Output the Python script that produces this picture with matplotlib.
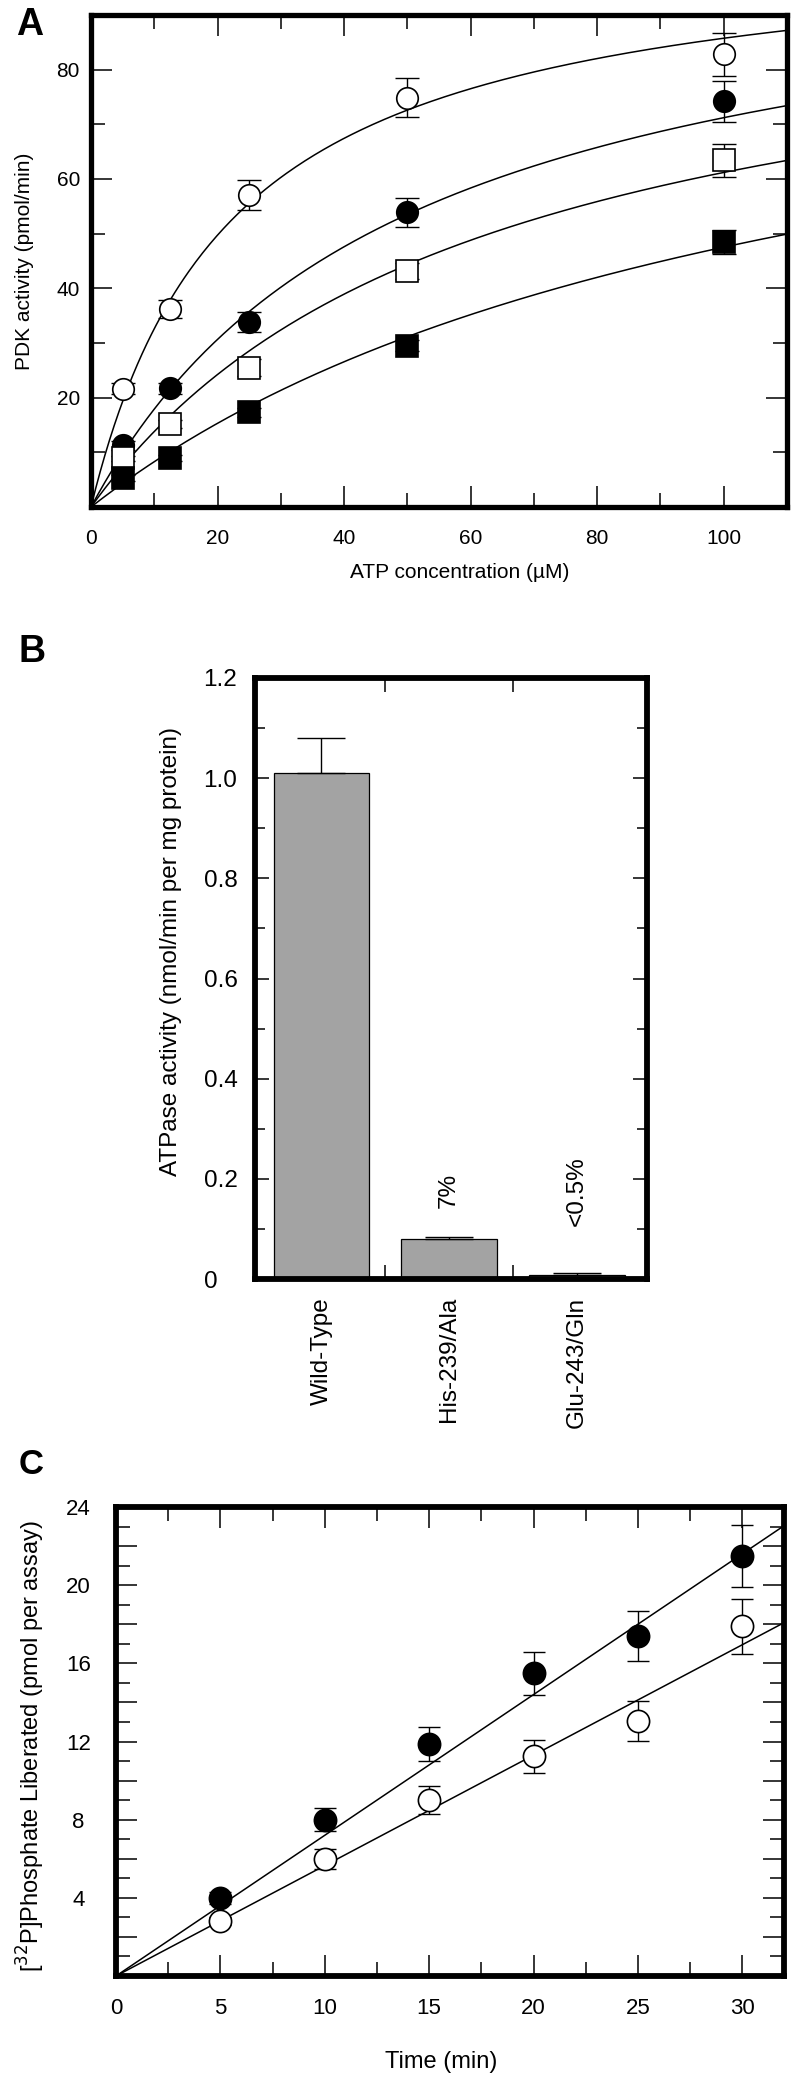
import numpy as np
import matplotlib
matplotlib.use('Agg')
import matplotlib.pyplot as plt
from matplotlib.ticker import MultipleLocator, FuncFormatter, FixedLocator
import matplotlib.transforms as mtransforms

plt.rcParams['font.family'] = ['Liberation Sans', 'DejaVu Sans']

# ---------------- Panel A data ----------------
atp_conc = [5, 12.5, 25, 50, 100]
open_circle = [21.6, 36.2, 57.1, 74.9, 82.8]
open_circle_err = [1.0, 1.7, 2.8, 3.6, 3.9]
filled_circle = [11.3, 21.7, 33.8, 53.9, 74.2]
filled_circle_err = [0.8, 1.0, 1.8, 2.6, 3.7]
open_square = [8.9, 15.2, 25.5, 43.2, 63.4]
open_square_err = [0.5, 0.8, 1.5, 1.5, 3.0]
filled_square = [5.3, 9.0, 17.3, 29.5, 48.4]
filled_square_err = [0.5, 0.6, 0.8, 1.0, 2.2]
# Michaelis-Menten fit parameters (Vmax, Km)
mm_vmax = [104.7, 106.4, 98.9, 100.3]
mm_km = [22.1, 49.4, 61.6, 111.0]

# ---------------- Panel B data ----------------
mutants = ['Wild-Type', 'His-239/Ala', 'Glu-243/Gln']
atpase = [1.01, 0.08, 0.007]
atpase_err = [0.07, 0.004, 0.004]
pct_labels = ['', '7%', '<0.5%']

# ---------------- Panel C data ----------------
time_min = [5, 10, 15, 20, 25, 30]
phos_filled = [4.0, 8.0, 11.86, 15.48, 17.4, 21.5]
phos_filled_err = [0.3, 0.6, 0.86, 1.1, 1.27, 1.6]
phos_open = [2.8, 6.0, 9.0, 11.24, 13.05, 17.9]
phos_open_err = [0.2, 0.5, 0.7, 0.86, 1.0, 1.4]
line_slopes = [0.72, 0.565]

W, H = 800, 2077
fig = plt.figure(figsize=(W / 100, H / 100), dpi=100)


def add_axes_px(l, t, r, b):
    return fig.add_axes([l / W, 1 - b / H, (r - l) / W, (b - t) / H])


def style(ax, lw=3.8):
    for s in ax.spines.values():
        s.set_linewidth(lw)
    ax.tick_params(which='both', direction='in', top=True, right=True,
                   width=1.1, color='black')


# ================= Panel A =================
axA = add_axes_px(91, 15, 787, 507)
style(axA)
axA.set_xlim(0, 110)
axA.set_ylim(0, 90)
axA.xaxis.set_major_locator(MultipleLocator(20))
axA.xaxis.set_minor_locator(MultipleLocator(10))
axA.yaxis.set_major_locator(MultipleLocator(20))
axA.yaxis.set_minor_locator(MultipleLocator(10))
axA.yaxis.set_major_formatter(FuncFormatter(lambda v, p: '' if v == 0 else '%d' % v))
axA.tick_params(which='major', length=15)
axA.tick_params(which='minor', length=10)
axA.tick_params(axis='y', labelsize=15, pad=8)
axA.tick_params(axis='x', labelsize=15, pad=16)

xs = np.linspace(0, 110, 300)
series = [
    (open_circle, open_circle_err, 'o', 'white'),
    (filled_circle, filled_circle_err, 'o', 'black'),
    (open_square, open_square_err, 's', 'white'),
    (filled_square, filled_square_err, 's', 'black'),
]
for vm, km in zip(mm_vmax, mm_km):
    axA.plot(xs, vm * xs / (km + xs), color='black', lw=1.1, zorder=2)
for y, e, m, fc in series:
    axA.errorbar(atp_conc, y, yerr=e, fmt='none', ecolor='black', elinewidth=1.0,
                 capsize=8.3, capthick=1.0, zorder=3)
    axA.plot(atp_conc, y, ls='none', marker=m, ms=15.5, mfc=fc, mec='black',
             mew=1.2, zorder=4, clip_on=False)

axA.set_xlabel('ATP concentration (µM)', fontsize=15, va='center')
axA.xaxis.set_label_coords((460 - 91) / 696, (507 - 572) / 492)
axA.set_ylabel('PDK activity (pmol/min)', fontsize=15, va='center')
axA.yaxis.set_label_coords((25 - 91) / 696, 0.5)

# ================= Panel B =================
axB = add_axes_px(255, 678, 647, 1279)
style(axB, lw=4.2)
axB.set_xlim(-0.52, 2.55)
axB.set_ylim(0, 1.2)
xpos = np.arange(len(mutants))
axB.bar(xpos, atpase, width=0.75, color='#a3a3a3', edgecolor='black', linewidth=0.9, zorder=2)
axB.errorbar(xpos, atpase, yerr=[np.zeros(len(atpase)), atpase_err], fmt='none',
             ecolor='black', elinewidth=1.0, capsize=17, capthick=1.0, zorder=3)
axB.xaxis.set_major_locator(FixedLocator([0.5, 1.5]))
axB.tick_params(axis='x', labelbottom=False, length=10)
axB.yaxis.set_major_locator(MultipleLocator(0.2))
axB.yaxis.set_minor_locator(MultipleLocator(0.1))
axB.yaxis.set_major_formatter(FuncFormatter(lambda v, p: '0' if abs(v) < 1e-9 else '%.1f' % v))
axB.tick_params(axis='y', which='major', length=10, labelsize=17.5, pad=37)
axB.tick_params(axis='y', which='minor', length=7)
for t in axB.get_yticklabels():
    t.set_ha('left')

trB = mtransforms.blended_transform_factory(axB.transData, axB.transAxes)
for x, name in zip(xpos, mutants):
    axB.text(x, (1279 - 1297) / 601, name, transform=trB, rotation=90,
             ha='center', va='top', fontsize=17.5)
for x, lab in zip(xpos, pct_labels):
    if lab:
        axB.text(x, 0.176, lab, rotation=90, ha='center', va='center', fontsize=17.5)

axB.set_ylabel('ATPase activity (nmol/min per mg protein)', fontsize=17.5, va='center')
axB.yaxis.set_label_coords((171 - 255) / 392, (1279 - 952) / 601)

# ================= Panel C =================
axC = add_axes_px(116, 1507, 784, 1976)
style(axC, lw=4.2)
axC.set_xlim(0, 32)
axC.set_ylim(0, 24)
axC.xaxis.set_major_locator(MultipleLocator(5))
axC.xaxis.set_minor_locator(MultipleLocator(2.5))
axC.yaxis.set_major_locator(MultipleLocator(2))
axC.yaxis.set_minor_locator(MultipleLocator(1))
axC.yaxis.set_major_formatter(FuncFormatter(
    lambda v, p: '%d' % v if (v > 0 and abs(v % 4) < 1e-9) else ''))
axC.tick_params(which='major', length=15)
axC.tick_params(which='minor', length=10)
axC.tick_params(axis='x', labelsize=16, pad=16)
axC.tick_params(axis='y', labelsize=16, pad=27)
for t in axC.get_yticklabels():
    t.set_ha('center')

xl = np.linspace(0, 32, 50)
for s in line_slopes:
    axC.plot(xl, s * xl, color='black', lw=1.1, zorder=2)
for y, e, fc in [(phos_filled, phos_filled_err, 'black'), (phos_open, phos_open_err, 'white')]:
    axC.errorbar(time_min, y, yerr=e, fmt='none', ecolor='black', elinewidth=1.0,
                 capsize=8, capthick=1.0, zorder=3)
    axC.plot(time_min, y, ls='none', marker='o', ms=16, mfc=fc, mec='black',
             mew=1.2, zorder=4)

axC.set_xlabel('Time (min)', fontsize=17, va='center')
axC.xaxis.set_label_coords((441 - 116) / 668, (1976 - 2062) / 469)
axC.set_ylabel(r'[$^{32}$P]Phosphate Liberated (pmol per assay)', fontsize=17, va='center')
axC.yaxis.set_label_coords((31 - 116) / 668, (1976 - 1746) / 469)

# Panel letters
fig.text(30 / W, 1 - 25 / H, 'A', ha='center', va='center', fontsize=27, fontweight='bold')
fig.text(32 / W, 1 - 652 / H, 'B', ha='center', va='center', fontsize=27, fontweight='bold')
fig.text(31 / W, 1 - 1465 / H, 'C', ha='center', va='center', fontsize=25, fontweight='bold')

fig.savefig('out.png', dpi=100)
